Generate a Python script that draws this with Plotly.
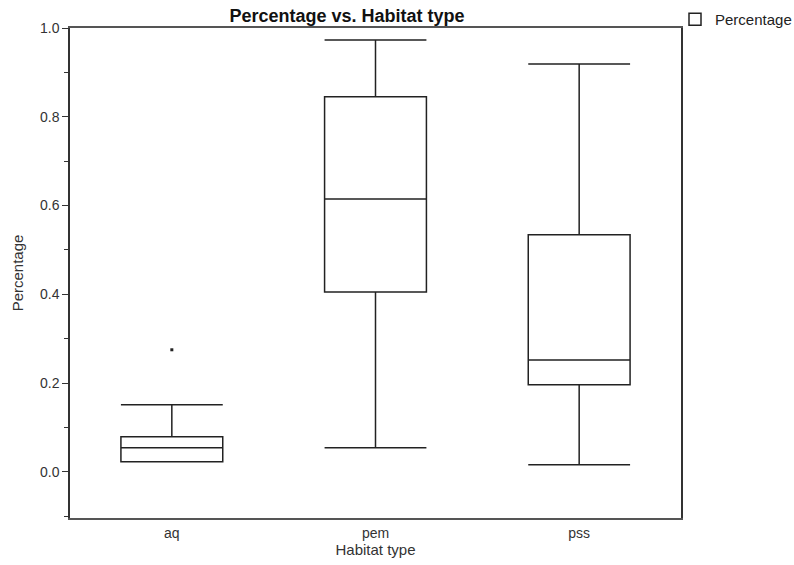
import plotly.graph_objects as go

categories = ["aq", "pem", "pss"]
q1 = [0.023, 0.405, 0.196]
median = [0.054, 0.615, 0.252]
q3 = [0.079, 0.845, 0.534]
lowerfence = [0.023, 0.054, 0.016]
upperfence = [0.151, 0.973, 0.919]
outlier_x = ["aq"]
outlier_y = [0.275]

FONT = "Liberation Sans, Arial, sans-serif"
L, R, T, B = 70, 113, 28, 47
W, H = 794, 565
PW, PH = W - L - R, H - T - B

fig = go.Figure()
fig.add_trace(go.Box(
    x=categories, q1=q1, median=median, q3=q3,
    lowerfence=lowerfence, upperfence=upperfence,
    name="Percentage", boxpoints=False,
    fillcolor="rgba(0,0,0,0)",
    line=dict(color="#222222", width=1.5),
    whiskerwidth=1, width=0.5,
    showlegend=True,
))
fig.add_trace(go.Scatter(
    x=outlier_x, y=outlier_y, mode="markers",
    marker=dict(color="#222222", size=3, symbol="square"),
    showlegend=False, hoverinfo="y",
))

fig.update_layout(
    width=W, height=H,
    margin=dict(l=L, r=R, t=T, b=B, autoexpand=False),
    paper_bgcolor="white", plot_bgcolor="white",
    font=dict(family=FONT, size=14, color="#333333"),
    title=dict(text="<b>Percentage vs. Habitat type</b>", x=347 / W, xanchor="center",
               y=1 - 16 / H, yanchor="middle", font=dict(size=18, color="#111111")),
    legend=dict(x=(675 - L) / PW, y=1 + (T - 3) / PH,
                xanchor="left", yanchor="top", itemwidth=30,
                font=dict(size=15, color="#222222"), bgcolor="rgba(0,0,0,0)"),
    showlegend=True,
)
fig.update_xaxes(
    range=[-0.5, 2.5], showgrid=False, zeroline=False,
    showline=True, linecolor="#555555", linewidth=1.5, mirror=True,
    ticks="", ticklabelstandoff=1, tickfont=dict(size=14, color="#333333"),
    title=dict(text="Habitat type", font=dict(size=15, color="#333333"), standoff=5),
)
fig.update_yaxes(
    range=[-0.104, 1.0], showgrid=False, zeroline=False,
    showline=True, linecolor="#333333", linewidth=1.5, mirror=True,
    tickmode="linear", tick0=0, dtick=0.2, tickformat=".1f",
    ticks="outside", ticklen=6, tickcolor="#333333",
    minor=dict(ticks="outside", ticklen=4, dtick=0.1, tick0=0, tickcolor="#333333"),
    tickfont=dict(size=14, color="#333333"),
    title=dict(text="Percentage", font=dict(size=15, color="#333333"), standoff=13),
)

fig.write_html("out.html")
